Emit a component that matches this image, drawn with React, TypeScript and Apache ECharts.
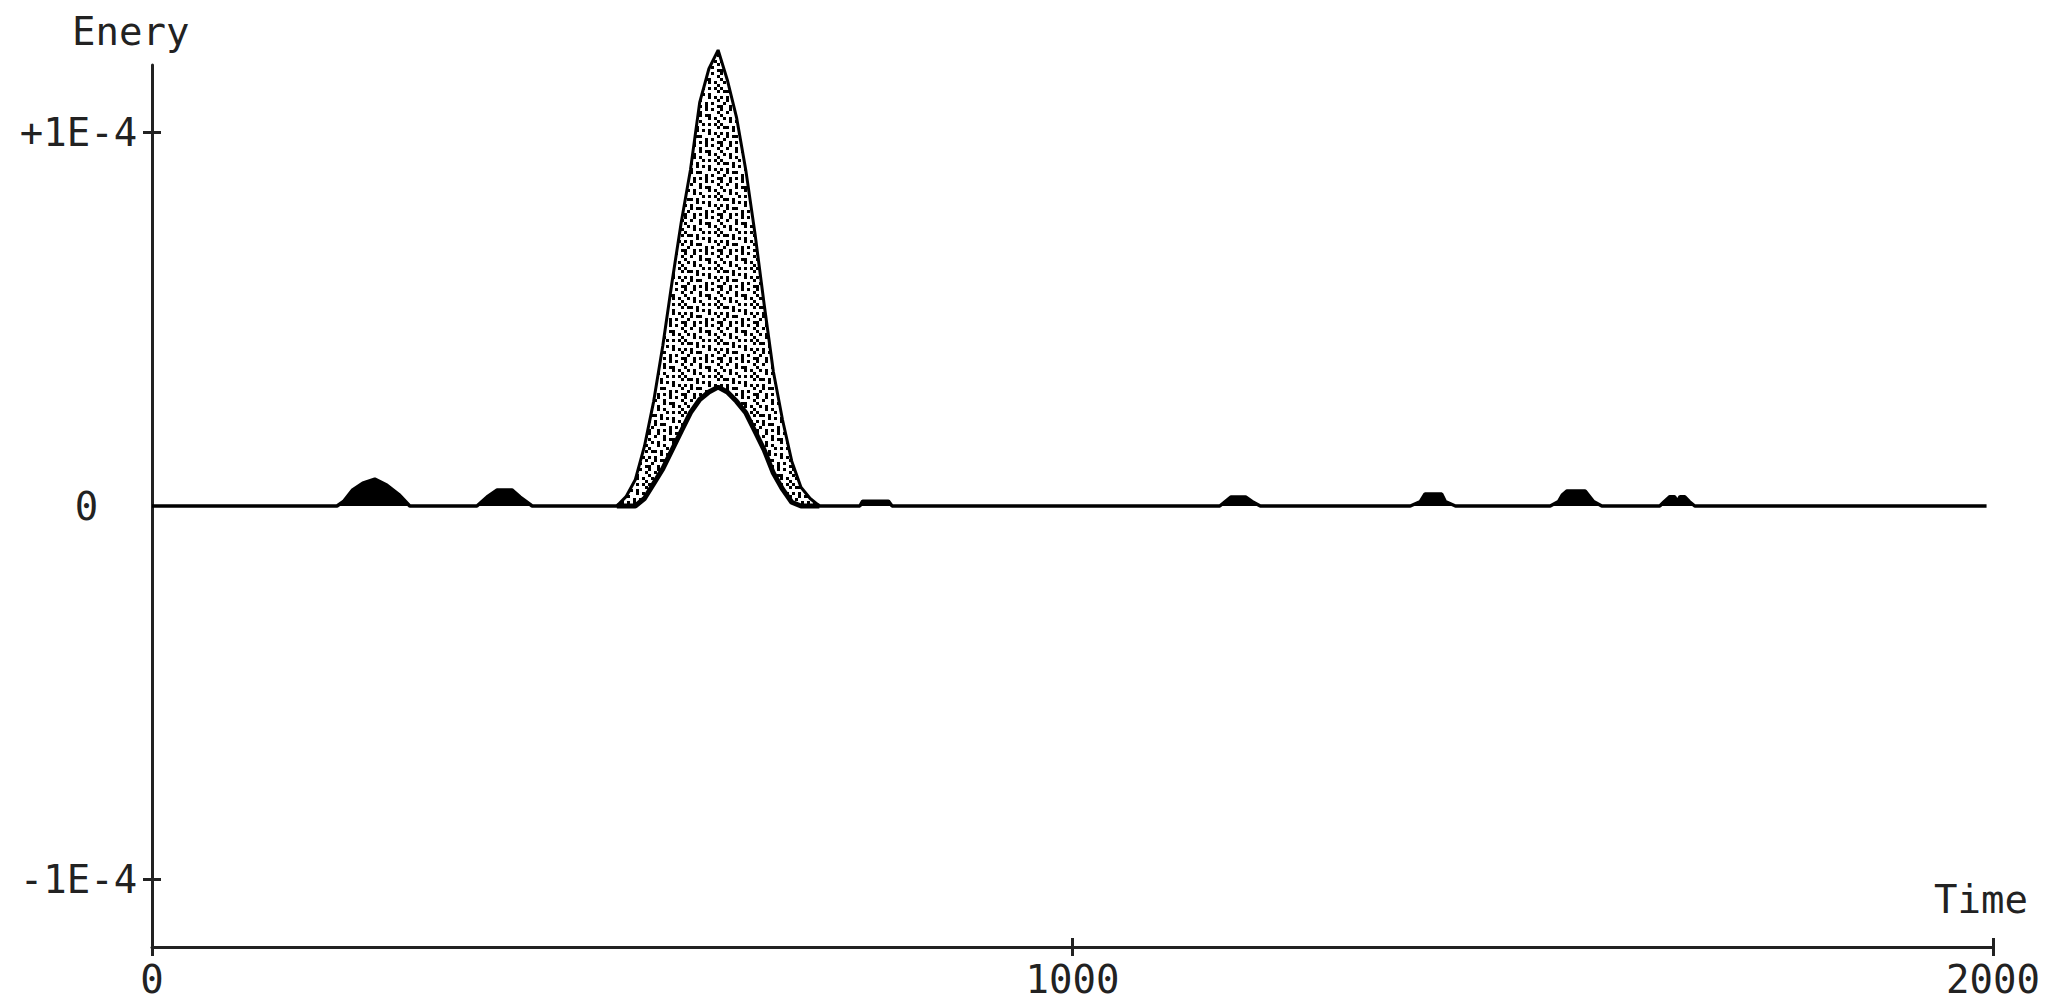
import { useEffect, useRef } from "react";
import * as echarts from "echarts";

// Energy values are given in units of 1E-4
const xTickValues = [0, 1000, 2000];
const yLabelValues = [-1, 0, 1];
const yTickValues = [-1, 1];

// main pulse: upper and lower envelope of the oscillating energy
const pulseTime = [505, 515, 525, 535, 545, 555, 565, 575, 585, 595, 605, 615, 625, 635, 645, 655, 665, 675, 685, 695, 705, 715, 725];
const pulseUpper = [0, 0.025, 0.07, 0.16, 0.28, 0.43, 0.6, 0.76, 0.9, 1.08, 1.17, 1.22, 1.14, 1.04, 0.9, 0.73, 0.54, 0.36, 0.23, 0.12, 0.05, 0.02, 0];
const pulseLower = [0, 0, 0, 0.02, 0.06, 0.1, 0.15, 0.2, 0.25, 0.285, 0.305, 0.318, 0.305, 0.28, 0.25, 0.2, 0.15, 0.088, 0.045, 0.01, 0, 0, 0];

// baseline with the minor bursts (null = gap under the main pulse)
const baseTime = [0, 201, 208, 218, 229, 242, 255, 269, 280, 353, 364, 375, 391, 400, 413, 512, 600, 716, 769, 772, 800, 804, 1160, 1166, 1172, 1188, 1195, 1204, 1367, 1378, 1383, 1401, 1405, 1416, 1519, 1528, 1532, 1537, 1557, 1566, 1575, 1638, 1643, 1649, 1654, 1657, 1660, 1665, 1670, 1676, 1993];
const baseValue: (number | null)[] = [0, 0, 0.012, 0.043, 0.061, 0.072, 0.056, 0.029, 0, 0, 0.024, 0.043, 0.043, 0.024, 0, 0, null, 0, 0, 0.013, 0.013, 0, 0, 0.012, 0.024, 0.024, 0.012, 0, 0, 0.012, 0.032, 0.032, 0.012, 0, 0, 0.012, 0.029, 0.04, 0.04, 0.012, 0, 0, 0.012, 0.025, 0.025, 0.012, 0.025, 0.025, 0.012, 0, 0];

const INK = "#222";
const FONT = "DejaVu Sans Mono";
const FS = 39;

// stipple tile used to fill the band between the envelopes (style only)
const STIPPLE = [
  "#..#...#.#..",
  "..#..#.....#",
  "#....#.##...",
  ".#.#....#.#.",
  "...#.#.....#",
  "#.....#.#.#.",
  ".##.#......#",
  "....#.#.#...",
  "#.#.....#.#.",
  "..#.##.....#",
  ".#.....#.#..",
  "#..#.#.#...#",
];

function makeStipple(): HTMLCanvasElement {
  const cell = 3;
  const c = document.createElement("canvas");
  c.width = STIPPLE[0].length * cell;
  c.height = STIPPLE.length * cell;
  const ctx = c.getContext("2d")!;
  ctx.fillStyle = "#fff";
  ctx.fillRect(0, 0, c.width, c.height);
  ctx.fillStyle = "#000";
  STIPPLE.forEach((row, r) => {
    for (let k = 0; k < row.length; k++) {
      if (row[k] === "#") ctx.fillRect(k * cell, r * cell, cell, cell);
    }
  });
  return c;
}

export default function App() {
  const ref = useRef<HTMLDivElement>(null);
  useEffect(() => {
    document.body.style.margin = "0";
    const chart = echarts.init(ref.current!, null, { renderer: "svg" });
    const tickStyle = { color: INK, width: 3 };
    const fmtY = (v: number) => (v === 0 ? "{z|0}" : v > 0 ? "+1E-4" : "-1E-4");
    const stipple = makeStipple();
    chart.setOption({
      animation: false,
      grid: { left: 152, right: 57, top: 65, bottom: 53 },
      xAxis: [
        {
          type: "value", min: 0, max: 2000, interval: 1000, position: "bottom",
          axisLine: { show: true, onZero: false, lineStyle: { color: INK, width: 3 } },
          axisTick: { show: true, length: 9, lineStyle: tickStyle, customValues: xTickValues },
          axisLabel: {
            color: INK, fontFamily: FONT, fontSize: FS, lineHeight: 34, margin: 15,
            customValues: xTickValues, formatter: (v: number) => String(v),
          },
          splitLine: { show: false },
        },
        {
          type: "value", min: 0, max: 2000, interval: 1000, position: "bottom",
          axisLine: { show: false, onZero: false },
          axisTick: { show: true, inside: true, length: 9, lineStyle: tickStyle, customValues: xTickValues },
          axisLabel: { show: false },
          splitLine: { show: false },
        },
      ],
      yAxis: [
        {
          type: "value", min: -1.18, max: 1.18, position: "left",
          axisLine: { show: true, onZero: false, lineStyle: { color: INK, width: 3 } },
          axisTick: { show: true, length: 9, lineStyle: tickStyle, customValues: yTickValues },
          axisLabel: {
            color: INK, fontFamily: FONT, fontSize: FS, margin: 73.5, align: "center",
            customValues: yLabelValues, formatter: fmtY,
            rich: { z: { color: INK, fontFamily: FONT, fontSize: FS, padding: [0, 0, 0, 16] } },
          },
          splitLine: { show: false },
        },
        {
          type: "value", min: -1.18, max: 1.18, position: "left",
          axisLine: { show: false, onZero: false },
          axisTick: { show: true, inside: true, length: 9, lineStyle: tickStyle, customValues: yTickValues },
          axisLabel: { show: false },
          splitLine: { show: false },
        },
      ],
      graphic: [
        { type: "text", x: 72, y: 31, style: { text: "Enery", fontSize: FS, fontFamily: FONT, fill: INK, verticalAlign: "middle" } },
        { type: "text", x: 1934, y: 899, style: { text: "Time", fontSize: FS, fontFamily: FONT, fill: INK, verticalAlign: "middle" } },
      ],
      series: [
        {
          type: "line", name: "baseline", clip: false, showSymbol: false, z: 2,
          data: baseTime.map((t, i) => [t, baseValue[i] === null ? "-" : baseValue[i]]),
          lineStyle: { color: "#000", width: 3.5 },
          areaStyle: { color: "#000", opacity: 1 },
        },
        {
          type: "line", name: "upper", clip: false, showSymbol: false, z: 3,
          data: pulseTime.map((t, i) => [t, pulseUpper[i]]),
          lineStyle: { color: "#000", width: 3 },
          areaStyle: { color: { image: stipple, repeat: "repeat" }, opacity: 1 },
        },
        {
          type: "line", name: "lower", clip: false, showSymbol: false, z: 4,
          data: pulseTime.map((t, i) => [t, pulseLower[i]]),
          lineStyle: { color: "#000", width: 5 },
          areaStyle: { color: "#fff", opacity: 1 },
        },
      ],
    });
    return () => chart.dispose();
  }, []);
  return <div ref={ref} style={{ width: 2050, height: 1000 }} />;
}
